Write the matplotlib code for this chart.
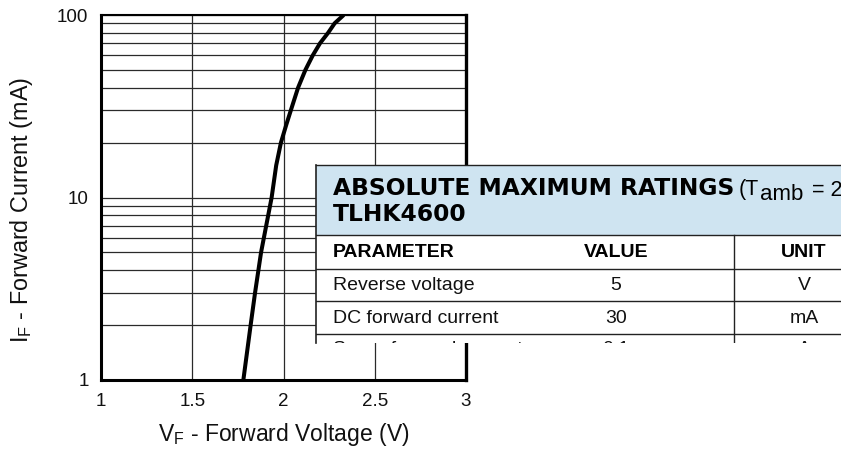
import numpy as np
import matplotlib
matplotlib.use("Agg")
import matplotlib.pyplot as plt
from matplotlib.patches import Rectangle

plt.rcParams['font.family'] = ['Liberation Sans', 'DejaVu Sans']
plt.rcParams['mathtext.default'] = 'regular'

# forward characteristic
v_forward = [1.78, 1.82, 1.844, 1.877, 1.935, 1.96, 1.986, 2.015, 2.04, 2.08, 2.12, 2.16, 2.20, 2.245, 2.28, 2.33]
i_forward = [1, 2, 3, 5, 10, 15, 20, 25, 30, 40, 50, 60, 70, 80, 90, 100]

x_ticks = [1, 1.5, 2, 2.5, 3]
x_tick_labels = ["1", "1.5", "2", "2.5", "3"]
y_ticks = [1, 10, 100]
y_tick_labels = ["1", "10", "100"]

# table overlay
table_title = "ABSOLUTE MAXIMUM RATINGS"
table_cond = ["(T", "amb", " = 25 °C, unless otherwise specified)"]
table_part = "TLHK4600"
table_header = ["PARAMETER", "VALUE", "UNIT"]
table_rows = [
    ["Reverse voltage", "5", "V"],
    ["DC forward current", "30", "mA"],
    ["Surge forward current", "0.1", "A"],
]

W, H = 841, 451
fig = plt.figure(figsize=(W / 100, H / 100), dpi=100)

ax = fig.add_axes([101 / W, 71 / H, 365 / W, 365 / H])
ax.set_yscale('log')
ax.set_xlim(1, 3)
ax.set_ylim(1, 100)
ax.plot(v_forward, i_forward, color='black', lw=2.9, solid_capstyle='butt',
        solid_joinstyle='round', zorder=3)

ax.set_xticks(x_ticks)
ax.set_xticklabels(x_tick_labels)
ax.set_yticks(y_ticks)
ax.set_yticklabels(y_tick_labels)
ax.set_yticks([k * d for d in (1, 10) for k in range(2, 10)], minor=True)
ax.yaxis.set_minor_formatter(matplotlib.ticker.NullFormatter())
ax.tick_params(which='both', length=0, labelsize=13.5, colors='#111111')
ax.tick_params(axis='x', pad=9)
ax.tick_params(axis='y', pad=9)
ax.grid(True, which='both', color='#2a2a2a', lw=0.9)
ax.set_axisbelow(True)
for side, w in [('left', 2.2), ('bottom', 2.2), ('right', 2.4), ('top', 1.5)]:
    ax.spines[side].set_linewidth(w)
    ax.spines[side].set_color('black')

ax.set_xlabel("V$_F$ - Forward Voltage (V)", fontsize=16.5, labelpad=8.5, color='#111111')
ax.set_ylabel("I$_F$ - Forward Current (mA)", fontsize=16.8, color='#111111')
ax.yaxis.set_label_coords(-0.18, 0.466)

# table panel drawn in pixel units
tx0, ty0, tx1, ty1 = 316, 165, 841, 343
tab = fig.add_axes([tx0 / W, (H - ty1) / H, (tx1 - tx0) / W, (ty1 - ty0) / H])
tw, th = tx1 - tx0, ty1 - ty0
tab.set_xlim(0, tw)
tab.set_ylim(th, 0)
tab.set_axis_off()
tab.add_patch(Rectangle((0, 0), tw, th, facecolor='white', edgecolor='none', zorder=0, clip_on=False))
tab.add_patch(Rectangle((0, 0), tw + 5, 70, facecolor='#cfe4f1', edgecolor='none', zorder=1))

lc = '#222222'
tab.plot([0, tw], [0, 0], color=lc, lw=1.0, zorder=2, clip_on=False)
tab.plot([0, 0], [0, th], color=lc, lw=1.2, zorder=2, clip_on=False)
for yy in [70, 104, 136, 169]:
    tab.plot([0, tw], [yy, yy], color=lc, lw=1.0, zorder=2)
tab.plot([418, 418], [70, th], color=lc, lw=1.0, zorder=2)

tab.text(17, 30, table_title, fontsize=16.8, fontweight='heavy', family='DejaVu Sans',
         va='baseline', ha='left', color='black', zorder=3)
t1 = tab.text(423, 30, table_cond[0], fontsize=15.5, va='baseline', ha='left',
              color='black', zorder=3, clip_on=True)
t2 = tab.annotate(table_cond[1], xy=(1, 0), xycoords=t1, xytext=(0.5, 0),
                  textcoords='offset points', fontsize=16, va='baseline', ha='left',
                  color='black', zorder=3, annotation_clip=False, clip_on=True)
tab.annotate(table_cond[2], xy=(1, 0), xycoords=t2, xytext=(2, 3),
             textcoords='offset points', fontsize=15.5, va='bottom', ha='left',
             color='black', zorder=3, annotation_clip=False, clip_on=True)
tab.text(17, 56, table_part, fontsize=16.8, fontweight='heavy', family='DejaVu Sans',
         va='baseline', ha='left', color='black', zorder=3)

col_x = [17, 300, 488]
col_ha = ['left', 'center', 'center']
row_base = [92, 125, 158, 189]
for j, txt in enumerate(table_header):
    tab.text(col_x[j], row_base[0], txt, fontsize=14, fontweight='bold',
             ha=col_ha[j], va='baseline', color='black', zorder=3)
for i, row in enumerate(table_rows):
    for j, txt in enumerate(row):
        tab.text(col_x[j], row_base[i + 1], txt, fontsize=14, ha=col_ha[j],
                 va='baseline', color='#111111', zorder=3, clip_on=True)

fig.savefig("out.png", dpi=100)
